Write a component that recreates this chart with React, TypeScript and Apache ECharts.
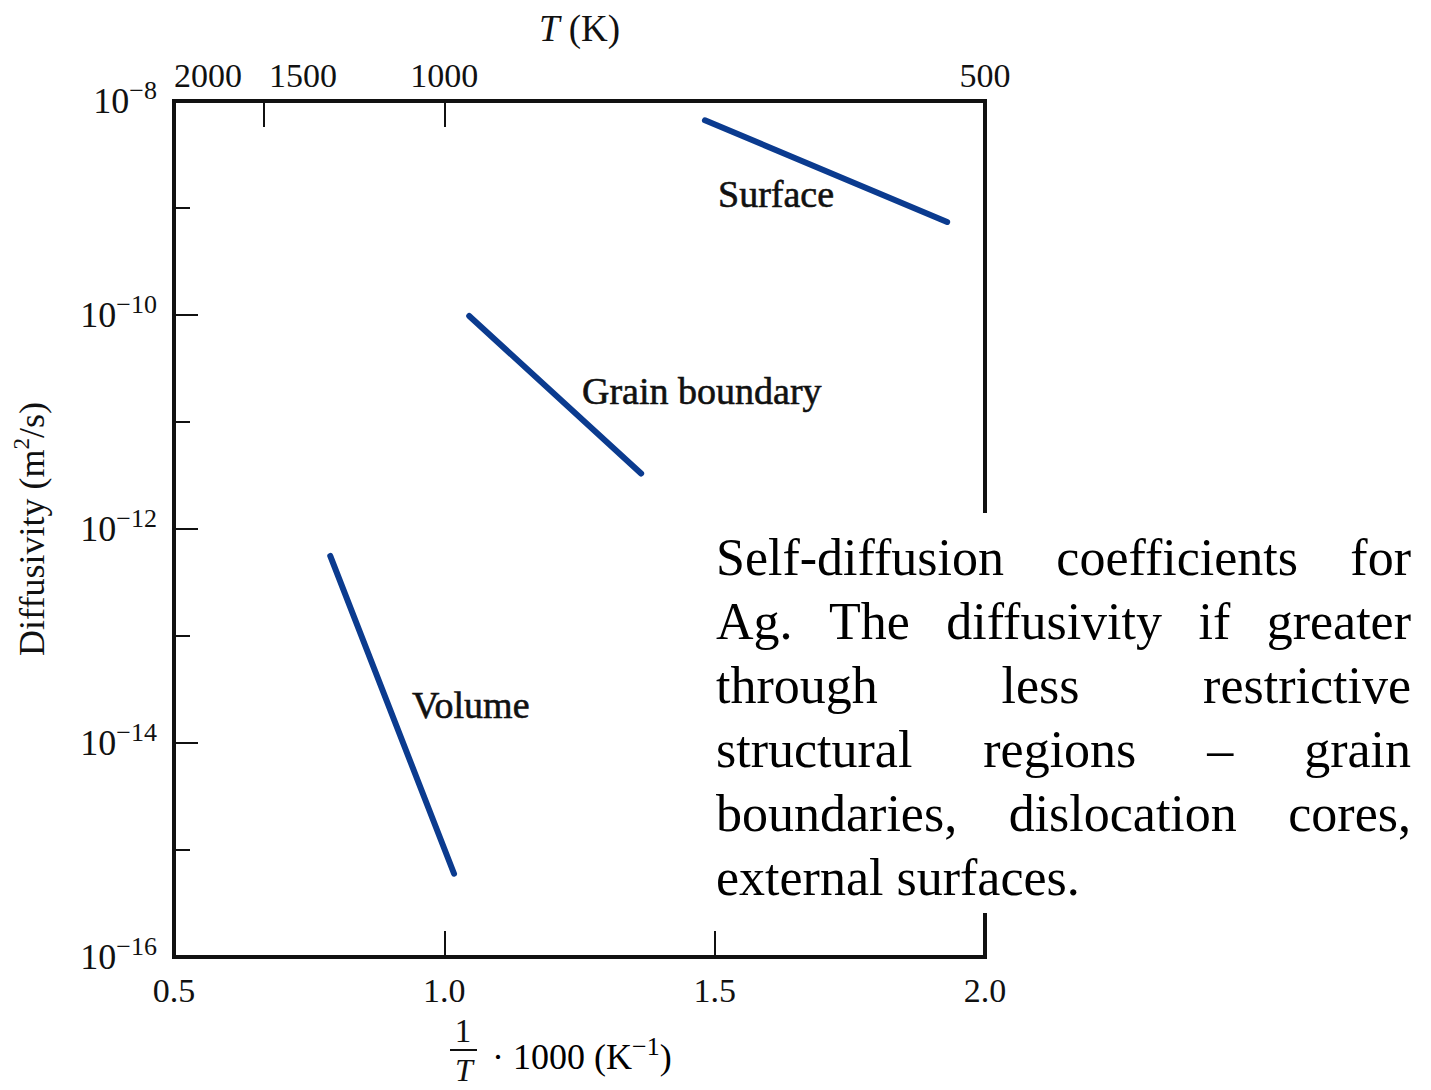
import React, { useEffect, useRef } from "react";
import * as echarts from "echarts";

const SERIF = "'Liberation Serif', 'Times New Roman', Times, serif";
const INK = "#111111";
const BLUE = "#0b3b8f";

// x = (1/T)·1000 in K^-1, D = diffusivity in m^2/s
const surfaceX = [1.482, 1.93];
const surfaceD = [6.6e-9, 7.4e-10];
const grainX = [1.046, 1.364];
const grainD = [9.8e-11, 3.3e-12];
const volumeX = [0.789, 1.018];
const volumeD = [5.6e-13, 6.0e-16];

const seriesNames = ["Surface", "Grain boundary", "Volume"];

// axes
const xMin = 0.5;
const xMax = 2.0;
const xStep = 0.5;
const topTempTicks = [2000, 1500, 1000, 500]; // T (K)
const yMinExp = -16;
const yMaxExp = -8;
const yLabelStep = 2;
const yTickStep = 1;

const captionLines = [
  "Self-diffusion coefficients for",
  "Ag. The diffusivity if greater",
  "through less restrictive",
  "structural regions \u2013 grain",
  "boundaries, dislocation cores,",
  "external surfaces.",
];

export default function App() {
  const ref = useRef<HTMLDivElement>(null);

  useEffect(() => {
    if (!ref.current) return;
    const chart = echarts.init(ref.current, undefined, { renderer: "svg" });

    const toPts = (xs: number[], ds: number[]) => xs.map((x, i) => [x, Math.log10(ds[i])]);

    const tickFont = { fontFamily: SERIF, fontSize: 34, color: INK };

    const supRich = {
      b: { fontFamily: SERIF, fontSize: 36, color: INK, lineHeight: 48, verticalAlign: "middle" },
      s: { fontFamily: SERIF, fontSize: 26, color: INK, lineHeight: 26, verticalAlign: "top" },
    };

    // caption, justified
    const capFont = 52;
    const capLeft = 716;
    const capRight = 1411;
    const capFirstY = 557.5;
    const capStep = 64;
    const canvas = document.createElement("canvas");
    const ctx = canvas.getContext("2d")!;
    ctx.font = `${capFont}px ${SERIF}`;
    const capText = (text: string, x: number, y: number, align = "left") => ({
      type: "text",
      z: 101,
      x,
      y,
      style: {
        text,
        fontFamily: SERIF,
        fontSize: capFont,
        fill: "#000000",
        align,
        textAlign: align,
        verticalAlign: "middle",
        textVerticalAlign: "middle",
      },
    });
    const captionEls: any[] = [];
    captionLines.forEach((line, i) => {
      const y = capFirstY + i * capStep;
      if (i === captionLines.length - 1) {
        captionEls.push(capText(line, capLeft, y));
        return;
      }
      const words = line.split(" ");
      const widths = words.map((w) => ctx.measureText(w).width);
      const total = widths.reduce((a, b) => a + b, 0);
      const gap = (capRight - capLeft - total) / (words.length - 1);
      let x = capLeft;
      words.forEach((w, j) => {
        if (j === words.length - 1) captionEls.push(capText(w, capRight, y, "right"));
        else captionEls.push(capText(w, x, y));
        x += widths[j] + gap;
      });
    });

    const annot = (text: string, x: number, y: number) => ({
      type: "text",
      z: 20,
      x,
      y,
      style: {
        text,
        fontFamily: SERIF,
        fontSize: 38,
        fill: INK,
        stroke: INK,
        lineWidth: 0.6,
        align: "left",
        textAlign: "left",
        verticalAlign: "middle",
        textVerticalAlign: "middle",
      },
    });

    const option: any = {
      animation: false,
      backgroundColor: "#ffffff",
      grid: {
        left: 174,
        right: 446,
        top: 101,
        bottom: 133,
        show: true,
        borderColor: INK,
        borderWidth: 4,
        backgroundColor: "transparent",
      },
      xAxis: [
        {
          type: "value",
          position: "bottom",
          min: xMin,
          max: xMax,
          interval: xStep,
          axisLine: { show: true, lineStyle: { color: INK, width: 4 } },
          axisTick: { show: true, inside: true, length: 26, lineStyle: { color: INK, width: 2 } },
          axisLabel: {
            ...tickFont,
            margin: 16,
            showMinLabel: true,
            showMaxLabel: true,
            formatter: (v: number) => v.toFixed(1),
          },
          splitLine: { show: false },
        },
        {
          type: "value",
          position: "top",
          min: xMin,
          max: xMax,
          axisLine: { show: true, lineStyle: { color: INK, width: 4 } },
          axisTick: {
            show: true,
            inside: true,
            length: 26,
            lineStyle: { color: INK, width: 2 },
            customValues: topTempTicks.map((t) => 1000 / t),
          },
          axisLabel: {
            ...tickFont,
            margin: 9,
            showMinLabel: true,
            showMaxLabel: true,
            customValues: topTempTicks.map((t) => 1000 / t),
            formatter: (v: number) => {
              const T = Math.round(1000 / v);
              const key = T === 2000 ? "p1" : T === 1500 ? "p2" : "n";
              return `{${key}|${T}}`;
            },
            rich: {
              n: { ...tickFont },
              p1: { ...tickFont, padding: [0, 0, 0, 68] },
              p2: { ...tickFont, padding: [0, 0, 0, 78] },
            },
          },
          splitLine: { show: false },
          name: "{i|T} (K)",
          nameLocation: "middle",
          nameGap: 54,
          nameTextStyle: {
            fontFamily: SERIF,
            fontSize: 37,
            color: INK,
            rich: {
              i: { fontFamily: SERIF, fontSize: 37, color: INK, fontStyle: "italic" },
            },
          },
        },
      ],
      yAxis: [
        {
          type: "value",
          position: "left",
          min: yMinExp,
          max: yMaxExp,
          interval: yLabelStep,
          axisLine: { show: true, lineStyle: { color: INK, width: 4 } },
          axisTick: { show: true, inside: true, length: 24, lineStyle: { color: INK, width: 2 } },
          axisLabel: {
            margin: 17,
            showMinLabel: true,
            showMaxLabel: true,
            formatter: (v: number) => `{b|10}{s|\u2212${Math.abs(v)}}`,
            rich: supRich,
          },
          splitLine: { show: false },
          name: "{a|Diffusivity (m}{s|2}{a|/s)}",
          nameLocation: "middle",
          nameRotate: 90,
          nameGap: 120,
          nameTextStyle: {
            rich: {
              a: { fontFamily: SERIF, fontSize: 36, color: INK, lineHeight: 44, verticalAlign: "middle" },
              s: { fontFamily: SERIF, fontSize: 23, color: INK, lineHeight: 23, verticalAlign: "top" },
            },
          },
        },
        {
          type: "value",
          position: "left",
          offset: 0,
          min: yMinExp,
          max: yMaxExp,
          interval: yTickStep,
          axisLine: { show: false },
          axisTick: { show: true, inside: true, length: 16, lineStyle: { color: INK, width: 2 } },
          axisLabel: { show: false },
          splitLine: { show: false },
        },
      ],
      series: [
        { name: seriesNames[0], xs: surfaceX, ds: surfaceD },
        { name: seriesNames[1], xs: grainX, ds: grainD },
        { name: seriesNames[2], xs: volumeX, ds: volumeD },
      ].map((s) => ({
        name: s.name,
        type: "line",
        xAxisIndex: 0,
        yAxisIndex: 0,
        data: toPts(s.xs, s.ds),
        showSymbol: false,
        symbol: "none",
        silent: true,
        z: 3,
        lineStyle: { color: BLUE, width: 6, cap: "round" },
      })),
      graphic: [
        annot(seriesNames[0], 718, 194),
        annot(seriesNames[1], 582, 391),
        annot(seriesNames[2], 412, 705),
        // bottom axis title: (1/T) · 1000 (K^-1)
        {
          type: "text",
          x: 463,
          y: 1031,
          style: {
            text: "1",
            fontFamily: SERIF,
            fontSize: 33,
            fill: INK,
            align: "center",
            textAlign: "center",
            verticalAlign: "middle",
            textVerticalAlign: "middle",
          },
        },
        {
          type: "line",
          shape: { x1: 450, y1: 1050, x2: 477, y2: 1050 },
          style: { stroke: INK, lineWidth: 2 },
        },
        {
          type: "text",
          x: 464,
          y: 1070,
          style: {
            text: "T",
            fontFamily: SERIF,
            fontSize: 32,
            fontStyle: "italic",
            fill: INK,
            align: "center",
            textAlign: "center",
            verticalAlign: "middle",
            textVerticalAlign: "middle",
          },
        },
        {
          type: "text",
          x: 492,
          y: 1057,
          style: {
            text: "{b|\u00b7 1000 (K}{s|\u22121}{b|)}",
            rich: supRich,
            align: "left",
            textAlign: "left",
            verticalAlign: "middle",
            textVerticalAlign: "middle",
          },
        },
        // caption box
        {
          type: "rect",
          z: 100,
          shape: { x: 698, y: 513, width: 733, height: 400 },
          style: { fill: "#ffffff" },
        },
        ...captionEls,
      ],
    };

    chart.setOption(option);
    return () => chart.dispose();
  }, []);

  return (
    <div
      ref={ref}
      style={{ position: "fixed", left: 0, top: 0, width: 1431, height: 1090, background: "#ffffff" }}
    />
  );
}
